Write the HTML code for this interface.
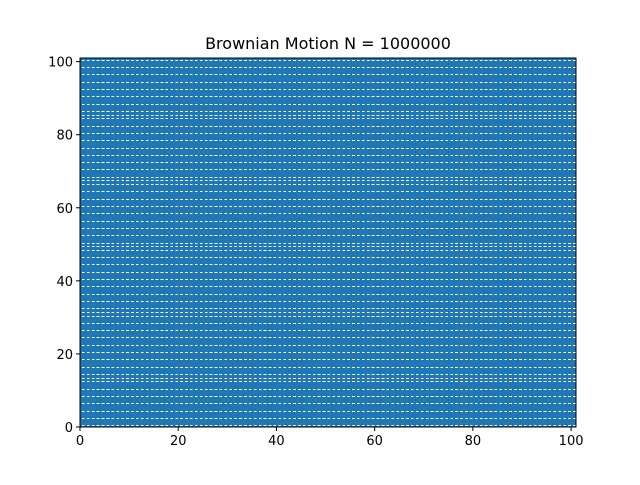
<!DOCTYPE html>
<html><head><meta charset="utf-8"><style>
body{margin:0;background:#fff;font-family:"Liberation Sans","DejaVu Sans",sans-serif}
</style></head><body>
<svg width="640" height="480" xmlns="http://www.w3.org/2000/svg">
<rect width="640" height="480" fill="#fff"/>
<text x="328" y="49" text-anchor="middle" font-size="16" font-family="DejaVu Sans, sans-serif">Brownian Motion N = 1000000</text>
<g id="plot" shape-rendering="crispEdges"></g>
<g id="axes"></g>
</svg>
<script>
const xTicks=[0,20,40,60,80,100];
const yTicks=[0,20,40,60,80,100];
const gapRows=[];for(let i=0;i<101;i++){if(i%2===0||i%9===4)gapRows.push(i);} // rows where the walk left gaps
const xDomain=[0,101],yDomain=[0,101];
const L=80,R=576,T=58,B=427;
const sx=v=>L+(v-xDomain[0])/(xDomain[1]-xDomain[0])*(R-L);
const sy=v=>B-(v-yDomain[0])/(yDomain[1]-yDomain[0])*(B-T);
const NS="http://www.w3.org/2000/svg";
const plot=document.getElementById('plot'),axes=document.getElementById('axes');
function mk(t,a,p){const e=document.createElementNS(NS,t);for(const k in a)e.setAttribute(k,a[k]);p.appendChild(e);return e;}
const bg=mk('rect',{x:L,y:T,width:R-L,height:B-T,fill:'#1f77b4'},plot);


const unit=sx(1)-sx(0);
gapRows.forEach(r=>{
  const y=Math.round(sy(r+0.5))+0.5;
  const l=mk('line',{x1:L+2,x2:R,y1:y,y2:y,stroke:'#fff','stroke-width':1,'stroke-dasharray':(unit*0.55)+' '+(unit*0.45)},plot);
  
  
});
const fr=mk('rect',{x:L,y:T,width:R-L,height:B-T,fill:'none',stroke:'#000','stroke-width':1},axes);


xTicks.forEach(v=>{
  const x=sx(v);
  const t=mk('line',{x1:x,x2:x,y1:B,y2:B+4,stroke:'#000'},axes);
  
  
  const s=mk('text',{x:x,y:B+18,'text-anchor':'middle','font-size':13,'font-family':'DejaVu Sans, sans-serif'},axes);
  s.textContent=v;
  
  
});
yTicks.forEach(v=>{
  const y=sy(v);
  const t=mk('line',{x1:L-4,x2:L,y1:y,y2:y,stroke:'#000'},axes);
  
  
  const s=mk('text',{x:L-7,y:y+5,'text-anchor':'end','font-size':13,'font-family':'DejaVu Sans, sans-serif'},axes);
  s.textContent=v;
  
  
});
</script>
</body></html>
